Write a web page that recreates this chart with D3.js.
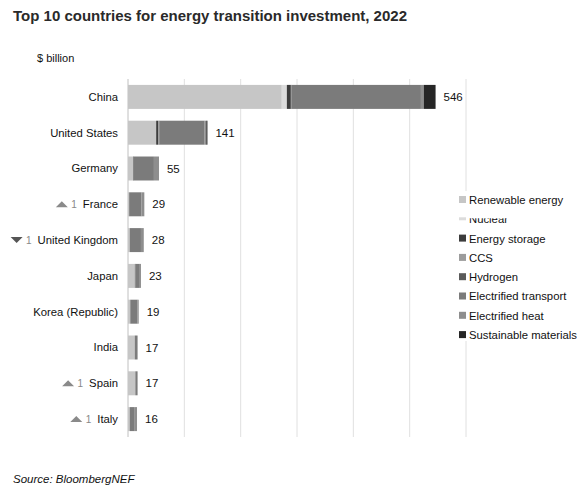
<!DOCTYPE html>
<html>
<head>
<meta charset="utf-8">
<script src="https://cdn.jsdelivr.net/npm/d3@7"></script>
<style>
  html, body { margin: 0; padding: 0; background: #fff; }
  svg { display: block; font-family: "Liberation Sans", Arial, sans-serif; }
</style>
</head>
<body>
<svg id="chart" width="577" height="488"></svg>
<script>
// Countries ranked by 2022 energy transition investment ($ billion)
const countries = ["China", "United States", "Germany", "France", "United Kingdom",
  "Japan", "Korea (Republic)", "India", "Spain", "Italy"];
const totals = [546, 141, 55, 29, 28, 23, 19, 17, 17, 16];
// Change in rank versus previous year (+ up, - down, 0 none)
const rankChange = [0, 0, 0, 1, -1, 0, 0, 0, 1, 1];

const sectors = ["Renewable energy", "Nuclear", "Energy storage", "CCS", "Hydrogen",
  "Electrified transport", "Electrified heat", "Sustainable materials"];
const sectorColors = ["#c6c6c6", "#dcdcdc", "#3c3c3c", "#9c9c9c", "#5a5a5a",
  "#7b7b7b", "#8e8e8e", "#262626"];

// Sector values per country, same order as `sectors`
const renewable   = [273, 50, 9, 2, 3, 11, 4, 12, 13, 3];
const nuclear     = [9, 0, 0, 0, 0, 1, 0, 0, 0, 0];
const storage     = [7, 4, 1, 0, 0, 1, 0, 0, 0, 0];
const ccs         = [0, 1, 0, 0, 0, 0, 0, 0, 0, 0];
const hydrogen    = [1, 1, 0, 0, 0, 0, 0, 0, 0, 0];
const transport   = [230, 80, 36, 22, 20, 8, 13, 5, 4, 9];
const heat        = [5, 3, 9, 5, 5, 2, 2, 0, 0, 4];
const materials   = [21, 2, 0, 0, 0, 0, 0, 0, 0, 0];

const xTicks = [0, 100, 200, 300, 400, 500, 600];

const seriesValues = [renewable, nuclear, storage, ccs, hydrogen, transport, heat, materials];
const rows = countries.map((c, i) => {
  const r = { country: c, total: totals[i], change: rankChange[i] };
  sectors.forEach((s, k) => r[s] = seriesValues[k][i]);
  return r;
});

const svg = d3.select("#chart");

const x = d3.scaleLinear().domain([0, 600]).range([128, 466]);
const y = d3.scaleBand().domain(countries).range([79, 437])
  .paddingInner(0.33).paddingOuter(0.165);
const color = d3.scaleOrdinal().domain(sectors).range(sectorColors);

// Title and unit
svg.append("text").attr("x", 13).attr("y", 21)
  .attr("font-size", 15).attr("font-weight", "bold").attr("fill", "#2a2a2a")
  .text("Top 10 countries for energy transition investment, 2022");
svg.append("text").attr("x", 37).attr("y", 62)
  .attr("font-size", 11).attr("fill", "#111")
  .text("$ billion");

// Vertical gridlines
svg.append("g").selectAll("line").data(xTicks.slice(1)).join("line")
  .attr("x1", d => x(d)).attr("x2", d => x(d))
  .attr("y1", 79).attr("y2", 437)
  .attr("stroke", "#e0e0e0").attr("stroke-width", 1);

// Baseline axis
svg.append("line").attr("x1", x(0)).attr("x2", x(0)).attr("y1", 79).attr("y2", 437)
  .attr("stroke", "#c0c0c0").attr("stroke-width", 1);

// Stacked bars
const stack = d3.stack().keys(sectors)(rows);
svg.append("g").selectAll("g").data(stack).join("g")
  .attr("fill", d => color(d.key))
  .selectAll("rect").data(d => d).join("rect")
  .attr("x", d => x(d[0]))
  .attr("width", d => Math.max(0, x(d[1]) - x(d[0])))
  .attr("y", d => y(d.data.country))
  .attr("height", y.bandwidth());

// Total labels
svg.append("g").selectAll("text").data(rows).join("text")
  .attr("x", d => x(d.total) + 8)
  .attr("y", d => y(d.country) + y.bandwidth() / 2)
  .attr("dy", "0.35em")
  .attr("font-size", 11.5).attr("fill", "#111")
  .text(d => d.total);

// Country labels
const labels = svg.append("g").selectAll("text").data(rows).join("text")
  .attr("x", 118)
  .attr("y", d => y(d.country) + y.bandwidth() / 2)
  .attr("dy", "0.35em")
  .attr("text-anchor", "end")
  .attr("font-size", 11.3).attr("fill", "#111")
  .text(d => d.country);

// Rank change markers in front of the labels
labels.each(function(d) {
  if (!d.change) return;
  const w = this.getComputedTextLength();
  const left = 118 - w;
  const cy = y(d.country) + y.bandwidth() / 2;
  const numX = left - 6;
  svg.append("text").attr("x", numX).attr("y", cy).attr("dy", "0.35em")
    .attr("text-anchor", "end").attr("font-size", 10).attr("fill", "#888")
    .text(Math.abs(d.change));
  const tx = numX - 15;
  const tri = d.change > 0
    ? `M${tx - 6},${cy + 3} L${tx + 6},${cy + 3} L${tx},${cy - 3} Z`
    : `M${tx - 6},${cy - 3} L${tx + 6},${cy - 3} L${tx},${cy + 3} Z`;
  svg.append("path").attr("d", tri)
    .attr("fill", d.change > 0 ? "#8a8a8a" : "#555");
});

// Legend
const legend = svg.append("g").attr("transform", "translate(459,193)");
legend.append("rect").attr("x", -2).attr("y", -2).attr("width", 130).attr("height", 150)
  .attr("fill", "#fff");
const defs = svg.append("defs");
// The "Nuclear" entry only shows its lower part
defs.append("clipPath").attr("id", "nuclearClip")
  .append("rect").attr("x", 0).attr("y", 6).attr("width", 120).attr("height", 9);
const items = legend.selectAll("g.item").data(sectors).join("g").attr("class", "item")
  .attr("transform", (d, i) => `translate(0,${i * 19.3})`);
items.append("rect").attr("x", 0)
  .attr("y", (d, i) => i === 1 ? 5 : 3)
  .attr("width", 7).attr("height", (d, i) => i === 1 ? 3 : 7)
  .attr("fill", d => color(d));
items.append("text").attr("x", 10).attr("y", 7).attr("dy", "0.35em")
  .attr("font-size", 11.3).attr("fill", "#111")
  .attr("clip-path", (d, i) => i === 1 ? "url(#nuclearClip)" : null)
  .text(d => d);

// Source
svg.append("text").attr("x", 13).attr("y", 483)
  .attr("font-size", 11.5).attr("font-style", "italic").attr("fill", "#111")
  .text("Source: BloombergNEF");
</script>
</body>
</html>
